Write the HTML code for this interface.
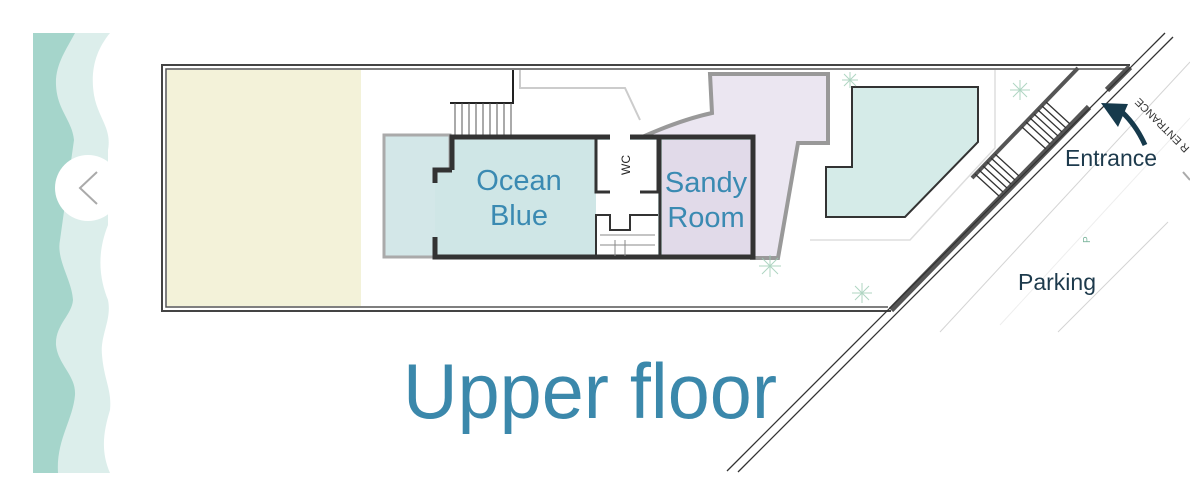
<!DOCTYPE html>
<html><head><style>
html,body{margin:0;padding:0;background:#fff;}
svg{display:block;}
text{font-family:"Liberation Sans",Arial,sans-serif;}
</style></head><body>
<svg width="1190" height="497" viewBox="0 0 1190 497" xmlns="http://www.w3.org/2000/svg">
<!-- left waves -->
<path d="M33,33 L110,33 C96,50 90,70 94,95 C98,118 112,128 108,150 L108,225 C96,255 100,280 108,300 C112,320 100,335 102,355 C104,380 112,390 110,410 C104,430 100,450 110,473 L33,473 Z" fill="#dceeeb"/>
<path d="M33,33 L75,33 C66,50 55,65 56,85 C57,110 72,120 74,140 L60,240 C56,260 72,280 73,300 C72,315 55,325 56,345 C58,365 76,375 75,395 C73,420 56,440 58,473 L33,473 Z" fill="#a5d5cb"/>
<circle cx="88" cy="188" r="33" fill="#fff"/>
<polyline points="97,172 80,188 97,204" fill="none" stroke="#aaa" stroke-width="2"/>
<polyline points="1183,172 1190,180" fill="none" stroke="#aaa" stroke-width="2"/>

<!-- light street lines -->
<line x1="1190" y1="62" x2="940" y2="332" stroke="#d4d4d4" stroke-width="1"/>
<line x1="1168" y1="222" x2="1058" y2="332" stroke="#d4d4d4" stroke-width="1"/>
<line x1="1190" y1="118" x2="1000" y2="325" stroke="#eee" stroke-width="1"/>

<!-- property walls -->
<rect x="167" y="70" width="194" height="236" fill="#f3f2d9"/>
<path d="M1130,65 L162,65 L162,311 L891,311" fill="none" stroke="#444" stroke-width="2"/>
<path d="M1126,69 L166,69 L166,307 L888,307" fill="none" stroke="#555" stroke-width="1.5"/>
<line x1="1130" y1="67" x2="1107" y2="90" stroke="#555" stroke-width="6"/>
<line x1="1089" y1="107" x2="891" y2="310" stroke="#555" stroke-width="6"/>
<line x1="1165" y1="33" x2="727" y2="471" stroke="#333" stroke-width="1.3"/>
<line x1="1173" y1="37" x2="738" y2="472" stroke="#333" stroke-width="1.3"/>
<!-- inner diagonal wall -->
<line x1="1078" y1="68" x2="972" y2="178" stroke="#555" stroke-width="4"/>
<g stroke="#333" stroke-width="1.3">
<line x1="1046" y1="102" x2="1070" y2="124"/><line x1="1042" y1="106" x2="1066" y2="128"/><line x1="1038" y1="110" x2="1062" y2="132"/><line x1="1034" y1="114" x2="1058" y2="136"/><line x1="1030" y1="118" x2="1054" y2="140"/><line x1="1026" y1="122" x2="1050" y2="144"/><line x1="1022" y1="127" x2="1046" y2="149"/>
<line x1="995" y1="154" x2="1019" y2="176"/><line x1="991" y1="158" x2="1015" y2="180"/><line x1="987" y1="162" x2="1011" y2="184"/><line x1="983" y1="166" x2="1007" y2="188"/><line x1="979" y1="170" x2="1003" y2="192"/><line x1="975" y1="174" x2="999" y2="196"/>
</g>
<path d="M810,240 L910,240 L995,148 L995,70" fill="none" stroke="#ddd" stroke-width="1.5"/>

<!-- pool -->
<path d="M852,87 L978,87 L978,142 L905,217 L826,217 L826,167 L852,167 Z" fill="#d5ebe8" stroke="#333" stroke-width="2"/>

<!-- purple area -->
<path d="M710,74 L828,74 L828,143 L798,143 L778,258 L752,258 L752,138 L640,138 Q680,120 712,113 Z" fill="#ebe6f1" stroke="#999" stroke-width="4"/>
<path d="M520,70 L520,88 L625,88 L640,120" fill="none" stroke="#ccc" stroke-width="2"/>

<!-- stairs top -->
<path d="M450,103 L513,103 L513,70" fill="none" stroke="#222" stroke-width="2"/>
<g stroke="#555" stroke-width="1">
<line x1="455" y1="103" x2="455" y2="135"/><line x1="462" y1="103" x2="462" y2="135"/><line x1="469" y1="103" x2="469" y2="135"/><line x1="476" y1="103" x2="476" y2="135"/><line x1="483" y1="103" x2="483" y2="135"/><line x1="490" y1="103" x2="490" y2="135"/><line x1="497" y1="103" x2="497" y2="135"/><line x1="504" y1="103" x2="504" y2="135"/><line x1="511" y1="103" x2="511" y2="135"/>
</g>

<!-- terrace left -->
<rect x="384" y="135" width="66" height="122" fill="#d3e7e8" stroke="#aaa" stroke-width="3"/>
<!-- building -->
<path d="M452,137 L753,137 L753,257 L435,257 L435,170 L452,170 Z" fill="#cfe6e6"/>
<rect x="662" y="140" width="89" height="116" fill="#e1dae9"/>
<rect x="596" y="140" width="62" height="116" fill="#fff"/>
<path d="M452,170 L452,137 L753,137 L753,257 L435,257 L435,237" fill="none" stroke="#333" stroke-width="5"/>
<path d="M452,170 L435,170 L435,183" fill="none" stroke="#333" stroke-width="5"/>
<rect x="610" y="134" width="20" height="6" fill="#fff"/>
<path d="M596,137 L596,192 L610,192 M640,192 L658,192 L658,137 M660,137 L660,257" fill="none" stroke="#333" stroke-width="3"/>
<path d="M596,257 L596,215 L610,215 L610,230 L630,230 L630,215 L658,215" fill="none" stroke="#333" stroke-width="2"/>
<g stroke="#888" stroke-width="1"><line x1="600" y1="235" x2="655" y2="235"/><line x1="600" y1="245" x2="655" y2="245"/><line x1="615" y1="240" x2="615" y2="256"/><line x1="625" y1="240" x2="625" y2="256"/></g>
<text x="630" y="165" font-size="12" fill="#222" transform="rotate(-90 630 165)" text-anchor="middle">WC</text>

<!-- labels -->
<text x="519" y="190" font-size="29" fill="#3a8ab2" text-anchor="middle">Ocean</text>
<text x="519" y="225" font-size="29" fill="#3a8ab2" text-anchor="middle">Blue</text>
<text x="706" y="192" font-size="29" fill="#3a8ab2" text-anchor="middle">Sandy</text>
<text x="706" y="227" font-size="29" fill="#3a8ab2" text-anchor="middle">Room</text>
<text x="403" y="418" font-size="78" fill="#3b88ab" textLength="374" lengthAdjust="spacingAndGlyphs">Upper floor</text>
<text x="1065" y="166" font-size="23" fill="#1d3a4c">Entrance</text>
<text x="1018" y="290" font-size="23" fill="#1d3a4c">Parking</text>
<text x="1090" y="243" font-size="10" fill="#7bb59c" transform="rotate(-90 1090 243)">P</text>
<text x="1190" y="148" font-size="11" fill="#333" transform="rotate(225 1190 148)">R ENTRANCE</text>
<!-- arrow -->
<path d="M1145,145 Q1136,125 1122,112" fill="none" stroke="#163a4c" stroke-width="5"/>
<polygon points="1101,103 1128,104 1118,127" fill="#163a4c"/>
<!-- plants -->
<g stroke="#9ccbb4" stroke-width="1" opacity="0.8">
<path d="M850,72 l0,16 M842,80 l16,0 M844,74 l12,12 M856,74 l-12,12"/>
<path d="M1020,80 l0,20 M1010,90 l20,0 M1013,83 l14,14 M1027,83 l-14,14"/>
<path d="M770,255 l0,22 M759,266 l22,0 M762,258 l16,16 M778,258 l-16,16"/>
<path d="M862,283 l0,20 M852,293 l20,0 M855,286 l14,14 M869,286 l-14,14"/>
</g>
</svg>
</body></html>
